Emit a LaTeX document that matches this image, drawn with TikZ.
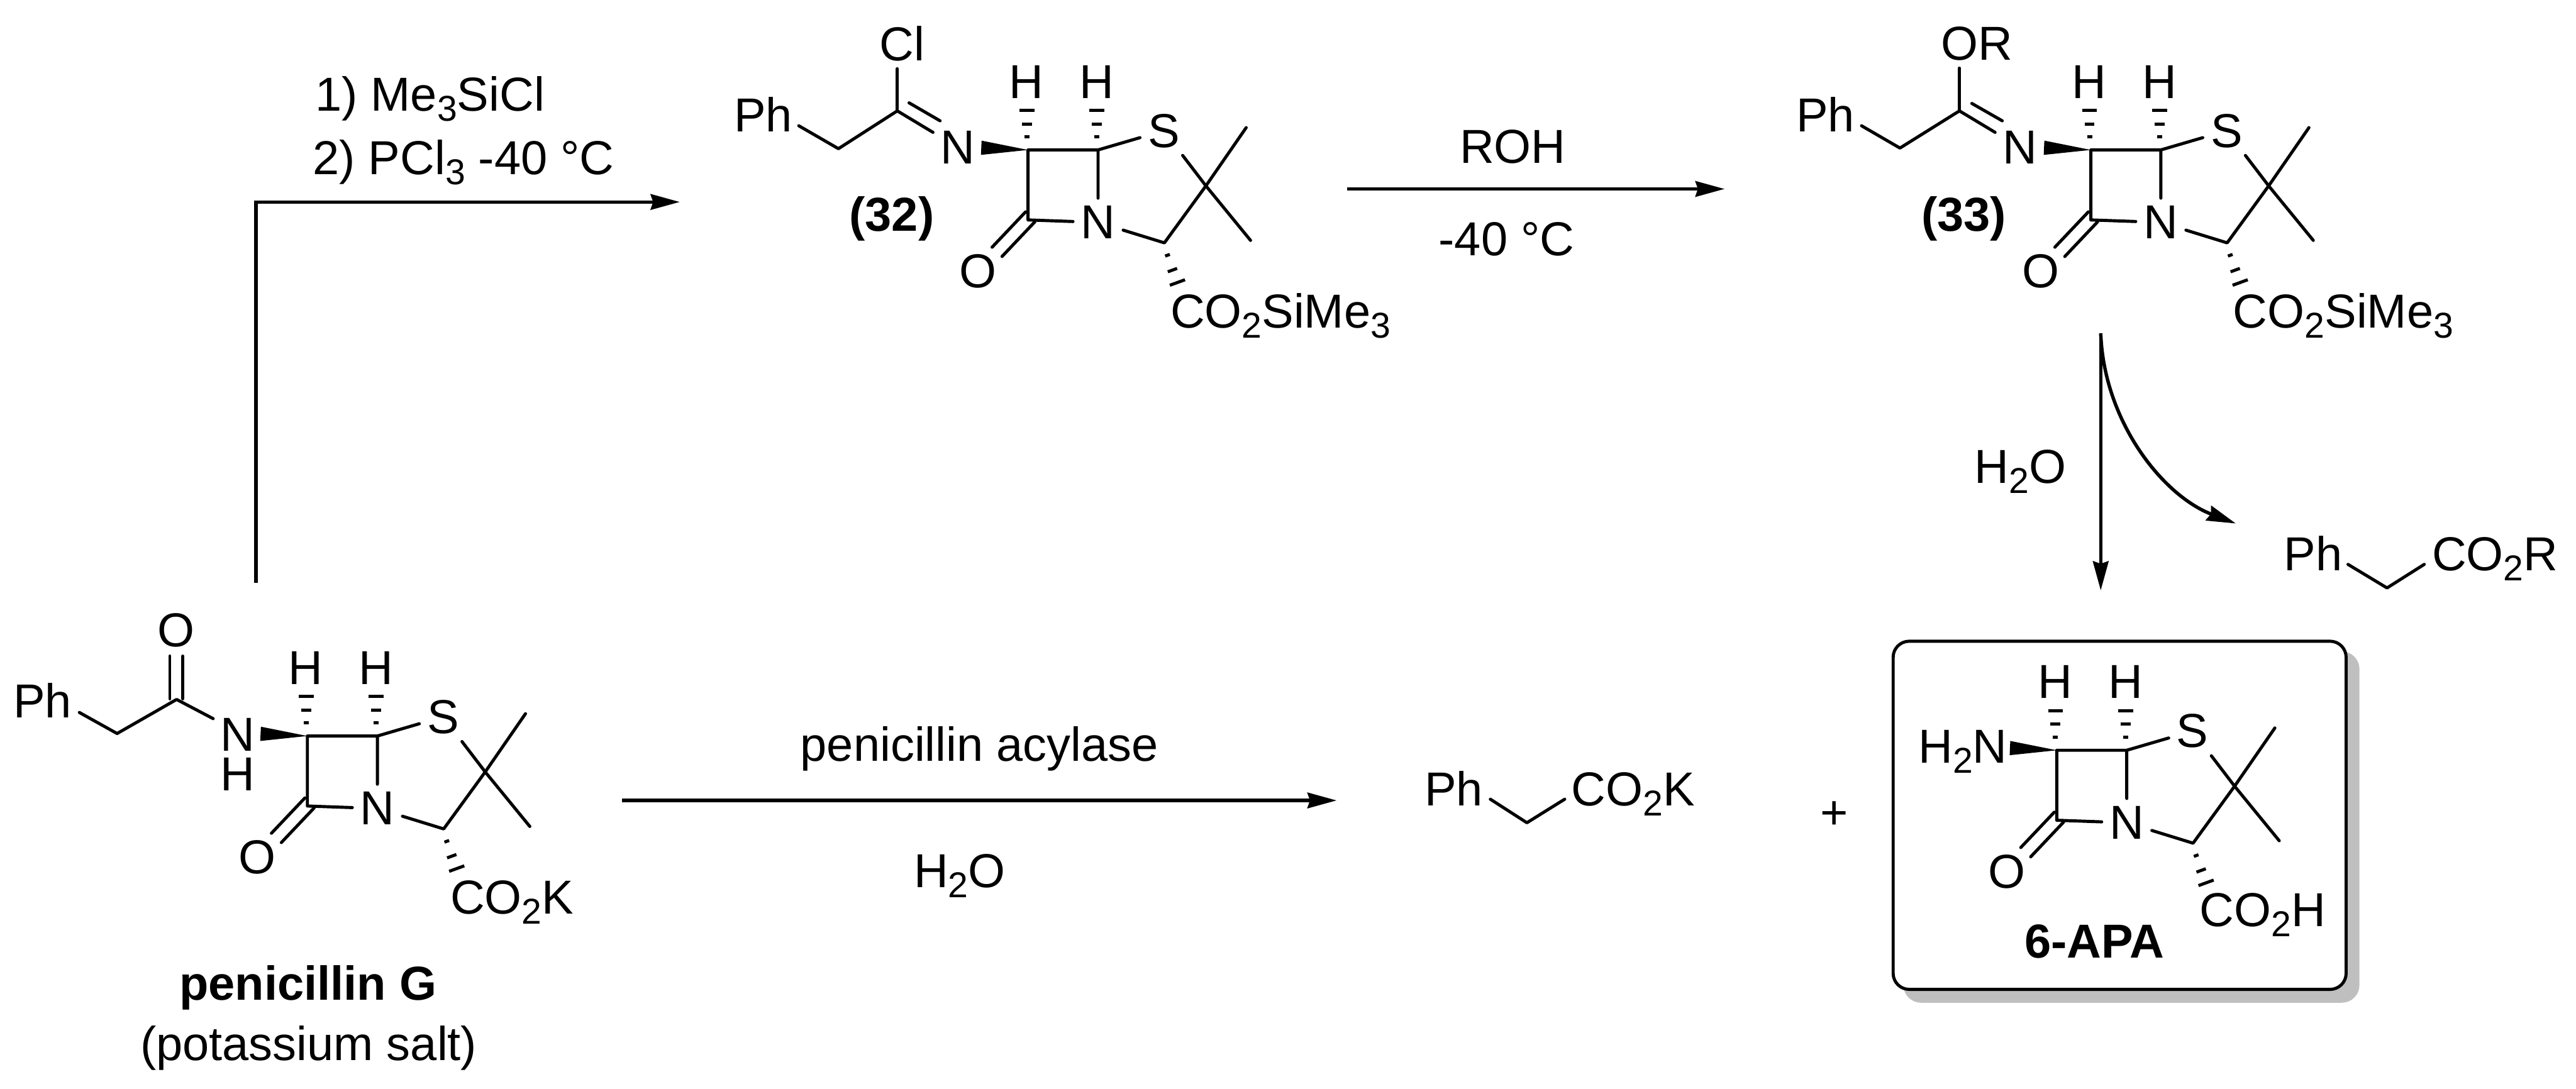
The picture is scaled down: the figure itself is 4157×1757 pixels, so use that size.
\documentclass[tikz,border=0pt]{standalone}
\usepackage{fontspec}
\setmainfont{Liberation Sans}
\usetikzlibrary{calc,arrows.meta}
\newcommand{\chemsize}{\fontsize{21.9pt}{21.9pt}\selectfont}
\tikzset{
	bond/.style={line width=0.5mm, line cap=round, line join=round},
	hash/.style={line width=0.5mm},
	atom/.style={inner sep=1.2mm, anchor=center},
	lbl/.style={inner sep=0pt, anchor=base west},
	capt/.style={inner sep=0pt, anchor=base, font=\chemsize\bfseries},
	rxn/.style={line width=0.55mm, -{Stealth[length=4.7mm, width=2.5mm, inset=0.4mm]}}
}
\newcommand{\lowr}[1]{\raisebox{-0.21em}{\fontsize{16.5pt}{16.5pt}\selectfont #1}}
\def\penamcore(#1)#2{
	\begin{scope}[shift={(#1)}]
		\coordinate (#2c6) at (0, 0);
		\coordinate (#2c5) at (113, 0);
		\coordinate (#2c7) at (0, 113);
		\coordinate (#2cq) at (287, 58);
		\coordinate (#2c3) at (220, 150);
		\coordinate (#2me1) at (352, -36);
		\coordinate (#2me2) at (359, 146);
		\node[atom] (#2s) at (219, -31) {S};
		\node[atom] (#2n) at (113, 117) {N};
		\node[atom] (#2o) at (-81, 196) {O};
		\node[atom] (#2h6) at (-3, -110) {H};
		\node[atom] (#2h5) at (111, -110) {H};
		\draw[bond] (#2c5) -- (#2c6) -- (#2c7) -- (#2n) -- (#2c5) -- (#2s) -- (#2cq) -- (#2c3) -- (#2n);
		\draw[bond] (#2me1) -- (#2cq) -- (#2me2);
		\draw[bond] ($(#2c7)+(-4,-13)$) -- ($(#2o)+(23,-39)$);
		\draw[bond] ($(#2c7)+(11,3)$) -- ($(#2o)+(39,-24)$);
		\fill (#2c6) -- (-75, -15) -- (-76, 8) -- cycle;
		\foreach \d/\w in {21/4, 42/8, 64/12} {
			\draw[hash] ($(#2c6)+(-2,-\d)$) ++(-\w, 0) -- ++(2*\w, 0);
			\draw[hash] ($(#2c5)+(-2,-\d)$) ++(-\w, 0) -- ++(2*\w, 0);
		}
		\foreach \x/\d/\w in {5/20/4, 13/44/8, 21/64/13} {
			\draw[hash] ($(#2c3)+(\x,\d)$) ++(-20:-\w) -- ++(-20:2*\w);
		}
	\end{scope}
}

\begin{document}
\begin{tikzpicture}[x=0.1mm, y=-0.1mm, font=\chemsize]
	\useasboundingbox (0, 0) rectangle (4157, 1757);
	%%%%% penicillin G %%%%%
	\penamcore(496, 1188){g}
	\node[lbl] (gph) at (21, 1158) {Ph};
	\node[atom] (go) at (284, 1017) {O};
	\node[atom, inner sep=0pt, align=center] (gnh) at (384, 1218) {N\\[-1.3mm]H};
	\coordinate (gphend) at (128, 1150);
	\coordinate (gch) at (189, 1184);
	\coordinate (gco) at (285, 1129);
	\coordinate (gnend) at (344, 1160);
	\draw[bond] (gphend) -- (gch) -- (gco) -- (gnend);
	\draw[bond] ($(gco)+(-11,-1)$) -- ($(go)+(-10,42)$);
	\draw[bond] ($(gco)+(10,-1)$) -- ($(go)+(11,42)$);
	\node[lbl] (gco2) at (726, 1475) {CO\lowr{2}K};
	\node[capt] (gname) at (497, 1614) {penicillin G};
	\node[inner sep=0pt, anchor=base] (gsalt) at (498, 1712) {(potassium salt)};
	%%%%% compound 32 %%%%%
	\penamcore(1659, 242){a}
	\node[lbl] (aph) at (1184, 213) {Ph};
	\node[atom] (acl) at (1456, 70) {Cl};
	\node[atom] (an) at (1546, 238) {N};
	\coordinate (aphend) at (1289, 203);
	\coordinate (ach) at (1353, 240);
	\coordinate (acim) at (1448, 179);
	\draw[bond] (aphend) -- (ach) -- (acim) -- (an);
	\draw[bond] (acim) -- (acim |- acl.south);
	\draw[bond] ($(acim)+(19,-13)$) -- ($(an)+(-29,-43)$);
	\node[lbl] (aco2) at (1888, 529) {CO\lowr{2}SiMe\lowr{3}};
	\node[capt] (alab) at (1439, 373) {(32)};
	%%%%% compound 33 %%%%%
	\penamcore(3374, 242){b}
	\node[lbl] (bph) at (2898, 213) {Ph};
	\node[atom] (bor) at (3190, 70) {OR};
	\node[atom] (bn) at (3260, 238) {N};
	\coordinate (bphend) at (3004, 203);
	\coordinate (bch) at (3066, 239);
	\coordinate (bcim) at (3162, 179);
	\draw[bond] (bphend) -- (bch) -- (bcim) -- (bn);
	\draw[bond] (bcim) -- (bcim |- bor.south);
	\draw[bond] ($(bcim)+(20,-12)$) -- ($(bn)+(-29,-43)$);
	\node[lbl] (bco2) at (3603, 529) {CO\lowr{2}SiMe\lowr{3}};
	\node[capt] (blab) at (3169, 373) {(33)};
	%%%%% 6-APA %%%%%
	\draw[fill=black!25, draw=black!25, line width=0.5mm, rounded corners=2.6mm] (3074, 1054) rectangle (3805, 1616);
	\draw[fill=white, line width=0.5mm, rounded corners=2.6mm] (3055, 1035) rectangle (3786, 1597);
	\penamcore(3319, 1211){d}
	\node[lbl] (dnh) at (3095, 1232) {H\lowr{2}N};
	\node[lbl] (dco2) at (3549, 1495) {CO\lowr{2}H};
	\node[capt] (dname) at (3380, 1546) {6-APA};
	%%%%% side products %%%%%
	\node[lbl] (kph) at (2298, 1301) {Ph};
	\node[lbl] (kco2) at (2535, 1301) {CO\lowr{2}K};
	\coordinate (ka) at (2405, 1290);
	\coordinate (kb) at (2464, 1328);
	\coordinate (kc) at (2525, 1290);
	\draw[bond] (ka) -- (kb) -- (kc);
	\node[inner sep=0pt] (plus) at (2960, 1316) {+};
	\node[lbl] (eph) at (3685, 921) {Ph};
	\node[lbl] (eco2) at (3924, 921) {CO\lowr{2}R};
	\coordinate (ea) at (3789, 911);
	\coordinate (eb) at (3852, 949);
	\coordinate (ec) at (3912, 911);
	\draw[bond] (ea) -- (eb) -- (ec);
	%%%%% arrows %%%%%
	\coordinate (gup) at (413, 941);
	\coordinate (ain) at (1097, 326);
	\draw[rxn] (gup) |- (ain);
	\node[lbl] (st1) at (508, 179) {1) Me\lowr{3}SiCl};
	\node[lbl] (st2) at (504, 282) {2) PCl\lowr{3} -40 °C};
	\coordinate (aout) at (2174, 305);
	\coordinate (bin) at (2783, 305);
	\draw[rxn] (aout) -- (bin);
	\node[lbl] (roh) at (2355, 263) {ROH};
	\node[lbl] (t40) at (2321, 413) {-40 °C};
	\coordinate (gout) at (1004, 1292);
	\coordinate (kin) at (2157, 1292);
	\draw[rxn] (gout) -- (kin);
	\node[lbl] (enz) at (1291, 1229) {penicillin acylase};
	\node[lbl] (wat1) at (1474, 1433) {H\lowr{2}O};
	\coordinate (bout) at (3390, 538);
	\coordinate (din) at (3390, 953);
	\coordinate (ein) at (3608, 845);
	\draw[rxn] (bout) -- (din);
	\draw[rxn] (bout) .. controls (3395, 680) and (3490, 800) .. (ein);
	\node[lbl] (wat2) at (3186, 780) {H\lowr{2}O};
\end{tikzpicture}
\end{document}
